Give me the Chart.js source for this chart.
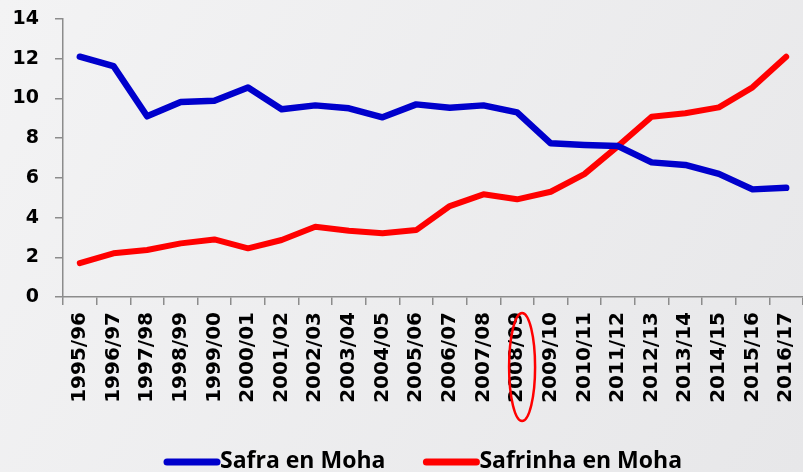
<!DOCTYPE html>
<html lang="pt">

<head>
  <meta charset="UTF-8">
  <script src="https://cdn.jsdelivr.net/npm/chart.js"></script>
  <title>Safra x Safrinha</title>
  <style>
    html, body { margin: 0; padding: 0; background: #eeeef0; }
    #box { width: 803px; height: 472px; }
  </style>
</head>

<body>
  <div id="box">
    <canvas id="grafico"></canvas>
  </div>

  <script>
    // dados
    var safras = ['1995/96', '1996/97', '1997/98', '1998/99', '1999/00', '2000/01', '2001/02', '2002/03',
      '2003/04', '2004/05', '2005/06', '2006/07', '2007/08', '2008/09', '2009/10', '2010/11',
      '2011/12', '2012/13', '2013/14', '2014/15', '2015/16', '2016/17'];
    var safraMoha = [12.1, 11.63, 9.1, 9.82, 9.88, 10.55, 9.45, 9.65, 9.5, 9.05, 9.7, 9.53,
      9.65, 9.3, 7.74, 7.66, 7.6, 6.78, 6.65, 6.2, 5.42, 5.5];
    var safrinhaMoha = [1.7, 2.2, 2.37, 2.7, 2.9, 2.45, 2.87, 3.54, 3.34, 3.21, 3.37, 4.58,
      5.17, 4.92, 5.3, 6.19, 7.6, 9.08, 9.25, 9.55, 10.56, 12.1];
    var ticksY = [0, 2, 4, 6, 8, 10, 12, 14];
    var safraDestaque = '2008/09';

    var cinza = '#8c8c8c';

    // fundo cinza claro
    var fundo = {
      id: 'fundo',
      beforeDraw: function (chart) {
        var ctx = chart.ctx;
        var g = ctx.createLinearGradient(0, 0, chart.width, chart.height);
        g.addColorStop(0, '#f3f3f4');
        g.addColorStop(1, '#e7e7e9');
        ctx.save();
        ctx.fillStyle = g;
        ctx.fillRect(0, 0, chart.width, chart.height);
        ctx.restore();
      }
    };

    // elipse vermelha em volta de 2008/09
    var destaque = {
      id: 'destaque',
      afterDraw: function (chart) {
        var ctx = chart.ctx;
        var x = chart.scales.x.getPixelForValue(safras.indexOf(safraDestaque)) + 5;
        var y = chart.chartArea.bottom + 70;
        ctx.save();
        ctx.strokeStyle = '#ff0000';
        ctx.lineWidth = 2.5;
        ctx.beginPath();
        ctx.ellipse(x, y, 13, 54, 0, 0, Math.PI * 2);
        ctx.stroke();
        ctx.restore();
      }
    };

    // legenda desenhada na parte de baixo
    var legenda = {
      id: 'legenda',
      afterDraw: function (chart) {
        var ctx = chart.ctx;
        var x = 164;
        var y = 462;
        ctx.save();
        ctx.font = 'bold 23px "Open Sans"';
        ctx.textBaseline = 'middle';
        chart.data.datasets.forEach(function (ds) {
          ctx.strokeStyle = ds.borderColor;
          ctx.lineWidth = 7;
          ctx.lineCap = 'round';
          ctx.beginPath();
          ctx.moveTo(x + 3, y);
          ctx.lineTo(x + 53, y);
          ctx.stroke();
          ctx.fillStyle = '#000';
          ctx.fillText(ds.label, x + 56, y - 1);
          x = x + 56 + ctx.measureText(ds.label).width + 38;
        });
        ctx.restore();
      }
    };

    const ctx = document.getElementById('grafico').getContext('2d');
    const grafico = new Chart(ctx, {
      type: 'line',
      data: {
        labels: safras,
        datasets: [
          {
            label: 'Safra en Moha',
            data: safraMoha,
            borderColor: '#0000cc',
            borderWidth: 6.5,
            borderCapStyle: 'round',
            borderJoinStyle: 'round',
            pointRadius: 0,
            tension: 0
          },
          {
            label: 'Safrinha en Moha',
            data: safrinhaMoha,
            borderColor: '#ff0000',
            borderWidth: 6,
            borderCapStyle: 'round',
            borderJoinStyle: 'round',
            pointRadius: 0,
            tension: 0
          }
        ]
      },
      options: {
        responsive: true,
        maintainAspectRatio: false,
        animation: false,
        layout: { padding: { top: 19, right: -2, bottom: 0, left: 0 } },
        plugins: {
          legend: { display: false },
          tooltip: { enabled: false }
        },
        scales: {
          x: {
            offset: true,
            grid: { offset: true, drawOnChartArea: false, color: cinza, tickLength: 8, lineWidth: 1.5 },
            border: { color: cinza, width: 1.5 },
            ticks: {
              autoSkip: false,
              minRotation: 90,
              maxRotation: 90,
              padding: 7,
              color: '#000',
              font: { family: 'DejaVu Sans', weight: 'bold', size: 20 }
            },
            afterFit: function (scale) {
              scale.height = 175;
              scale.paddingLeft = 0;
              scale.paddingRight = 0;
            }
          },
          y: {
            min: 0,
            max: 14,
            afterBuildTicks: function (scale) {
              scale.ticks = ticksY.map(function (v) { return { value: v }; });
            },
            grid: { drawOnChartArea: false, color: cinza, tickLength: 8, lineWidth: 1.5 },
            border: { color: cinza, width: 1.5 },
            ticks: {
              padding: 16,
              color: '#000',
              font: { family: 'DejaVu Sans', weight: 'bold', size: 19 }
            },
            afterFit: function (scale) {
              scale.width = 63;
              scale.paddingTop = 0;
              scale.paddingBottom = 0;
            }
          }
        }
      },
      plugins: [fundo, destaque, legenda]
    });
  </script>

</body>

</html>
